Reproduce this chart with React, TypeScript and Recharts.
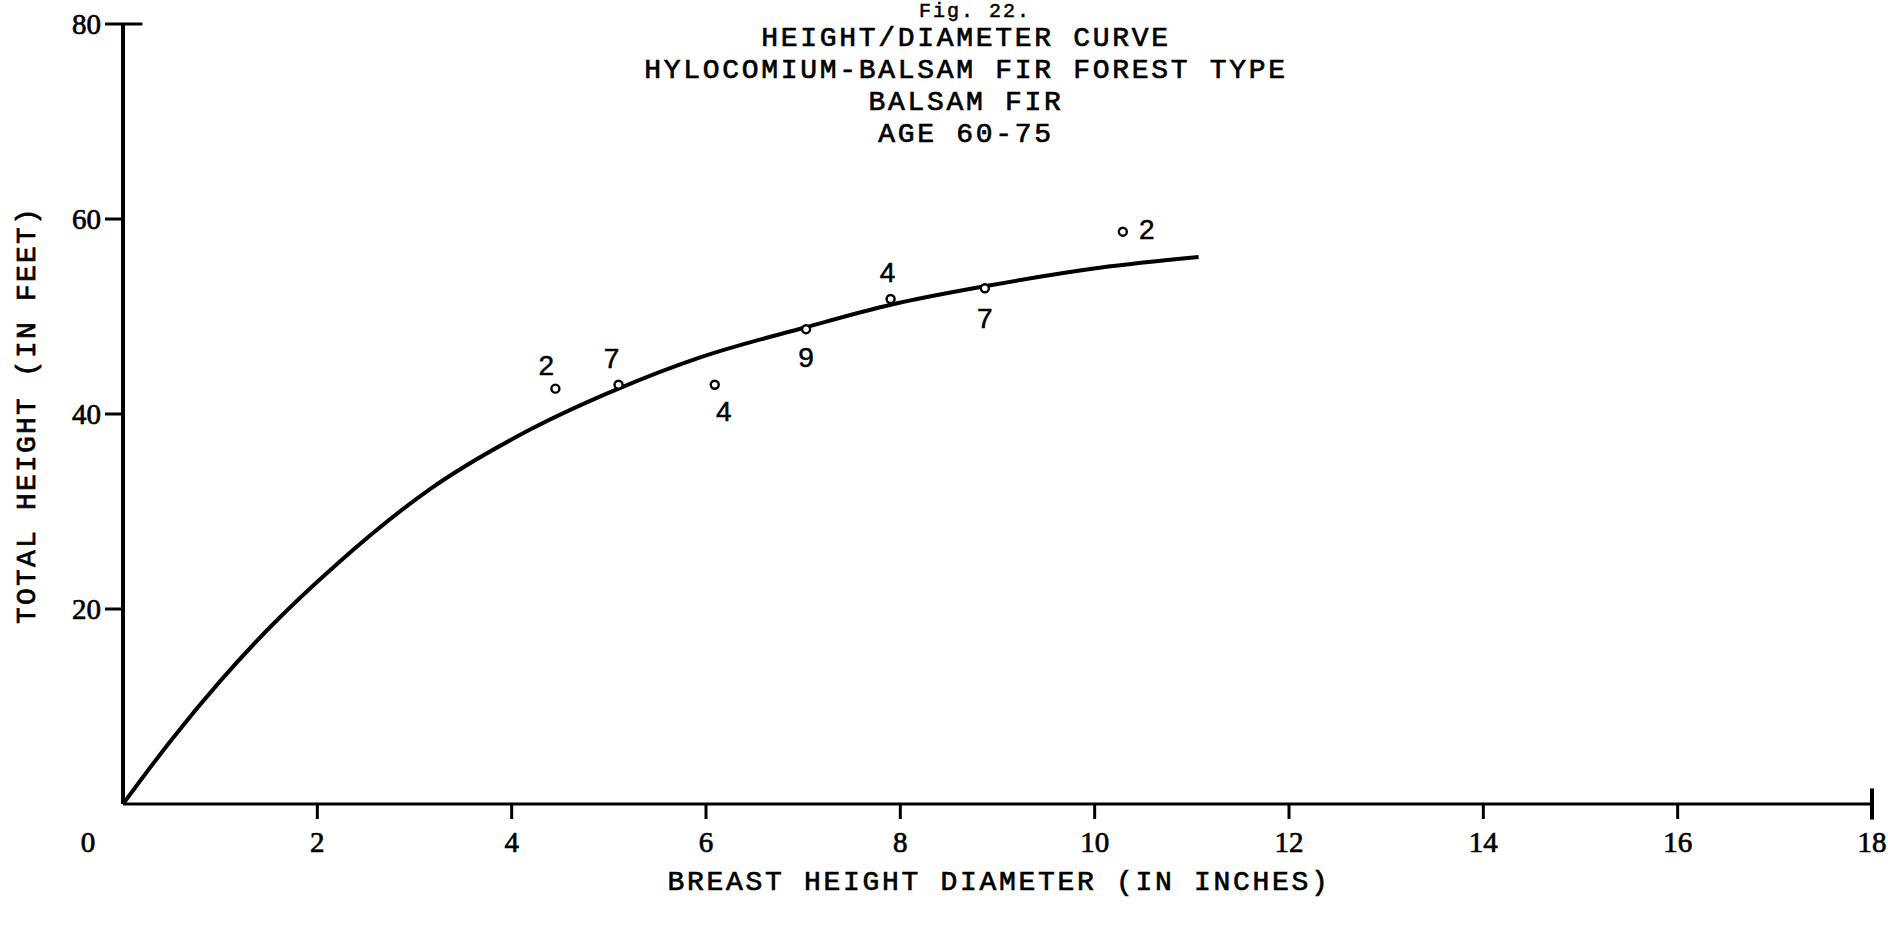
import { ComposedChart, Line, Scatter, XAxis, YAxis, ReferenceLine } from 'recharts';

const diameterTicks = [0, 2, 4, 6, 8, 10, 12, 14, 16, 18];
const heightTicks = [20, 40, 60, 80];

// fitted height/diameter curve
const curveDbh = [0, 0.5, 1, 1.5, 2.2, 3.16, 4.19, 5.1, 5.94, 7.03, 7.9, 8.87, 10.05, 11.07];
const curveHeight = [0, 6.6, 12.6, 18.0, 24.6, 32.3, 38.4, 42.6, 45.8, 48.9, 51.2, 53.1, 55.0, 56.1];

// diameter class means, with the number of trees in each class
const classDbh = [4.45, 5.1, 6.09, 7.03, 7.9, 8.87, 10.29];
const classHeight = [42.6, 43.0, 43.0, 48.7, 51.8, 52.9, 58.7];
const treeCount = [2, 7, 4, 9, 4, 7, 2];

const titleLines = [
  'HEIGHT/DIAMETER CURVE',
  'HYLOCOMIUM-BALSAM FIR FOREST TYPE',
  'BALSAM FIR',
  'AGE 60-75',
];

// where each tree count sits relative to its circle (px)
const countOffsets = [[-9, -23], [-7, -26], [9, 27], [0, 28], [-3, -26], [0, 30], [24, -2]];

const curve = curveDbh.map((x, i) => ({ x, y: curveHeight[i] }));
const classes = classDbh.map((x, i) => ({ x, y: classHeight[i], n: treeCount[i] }));

const TYPE = '"Liberation Mono", "Courier New", monospace';
const DIGITS = '"Liberation Serif", "Times New Roman", serif';
const INK = '#000';
const X_TICK_SIZE = 15;
const X_TICK_MARGIN = 12;

const typed = {
  fontFamily: TYPE,
  fontSize: 28,
  letterSpacing: 2.7,
  whiteSpace: 'pre' as const,
  color: INK,
  WebkitTextStroke: '0.7px #000',
};

const DiameterTick = ({ x, y, payload }: any) => {
  const v = payload.value;
  return (
    <g>
      {v !== 0 && (
        <line
          x1={x}
          x2={x}
          y1={y - X_TICK_MARGIN - X_TICK_SIZE}
          y2={y - X_TICK_MARGIN}
          stroke={INK}
          strokeWidth={3}
        />
      )}
      <text
        x={v === 0 ? x - 35 : x}
        y={y}
        dy="0.71em"
        textAnchor="middle"
        fontFamily={DIGITS}
        fontSize={29}
        fill={INK}
        stroke={INK}
        strokeWidth={0.7}
      >
        {v}
      </text>
    </g>
  );
};

const HeightTick = ({ x, y, payload }: any) => (
  <text
    x={x}
    y={y}
    dy="0.355em"
    textAnchor="end"
    fontFamily={DIGITS}
    fontSize={29}
    fill={INK}
    stroke={INK}
    strokeWidth={0.7}
  >
    {payload.value}
  </text>
);

const ClassPoint = ({ cx, cy, index, payload }: any) => {
  const [dx, dy] = countOffsets[index] || [0, -25];
  return (
    <g>
      <circle cx={cx} cy={cy} r={4} fill="#fff" stroke={INK} strokeWidth={2.4} />
      <text
        x={cx + dx}
        y={cy + dy}
        textAnchor="middle"
        dominantBaseline="central"
        fontFamily='"Liberation Sans", Arial, sans-serif'
        fontSize={28}
        fill={INK}
        stroke={INK}
        strokeWidth={0.5}
      >
        {payload.n}
      </text>
    </g>
  );
};

export default function App() {
  return (
    <div
      style={{
        position: 'absolute',
        left: 0,
        top: 0,
        width: 1888,
        height: 931,
        background: '#fff',
        overflow: 'hidden',
      }}
    >
      <ComposedChart
        width={1888}
        height={931}
        margin={{ top: 24, right: 16, bottom: 87, left: 83 }}
      >
        <XAxis
          type="number"
          dataKey="x"
          domain={[0, 18]}
          ticks={diameterTicks}
          interval={0}
          height={40}
          tickLine={false}
          tickSize={X_TICK_SIZE}
          tickMargin={X_TICK_MARGIN}
          axisLine={{ stroke: INK, strokeWidth: 3 }}
          tick={<DiameterTick />}
        />
        <YAxis
          type="number"
          dataKey="y"
          domain={[0, 80]}
          ticks={heightTicks}
          interval={0}
          width={40}
          tickSize={18}
          tickMargin={4}
          tickLine={{ stroke: INK, strokeWidth: 3 }}
          axisLine={{ stroke: INK, strokeWidth: 4 }}
          tick={<HeightTick />}
        />
        <ReferenceLine
          segment={[{ x: 0, y: 80 }, { x: 0.2, y: 80 }]}
          stroke={INK}
          strokeWidth={3}
          ifOverflow="visible"
        />
        <ReferenceLine
          segment={[{ x: 18, y: -1.6 }, { x: 18, y: 1.6 }]}
          stroke={INK}
          strokeWidth={4}
          ifOverflow="visible"
        />
        <Line
          data={curve}
          dataKey="y"
          type="monotone"
          stroke={INK}
          strokeWidth={4}
          dot={false}
          activeDot={false}
          isAnimationActive={false}
        />
        <Scatter
          data={classes}
          dataKey="y"
          shape={<ClassPoint />}
          isAnimationActive={false}
        />
      </ComposedChart>

      {/* figure number, kept small so it fits above the heading */}
      <div
        style={{
          ...typed,
          position: 'absolute',
          left: 975,
          top: 0,
          fontSize: 20,
          letterSpacing: 2,
          lineHeight: '23px',
          WebkitTextStroke: '0.5px #000',
          transform: 'translateX(-50%)',
        }}
      >
        Fig. 22.
      </div>

      <div
        style={{
          ...typed,
          position: 'absolute',
          left: 966,
          top: 23,
          lineHeight: '32px',
          textAlign: 'center',
          transform: 'translateX(-50%)',
        }}
      >
        {titleLines.map((t) => (
          <div key={t}>{t}</div>
        ))}
      </div>

      <div
        style={{
          ...typed,
          position: 'absolute',
          left: 999,
          top: 882,
          transform: 'translate(-50%, -50%)',
        }}
      >
        BREAST HEIGHT DIAMETER (IN INCHES)
      </div>

      <div
        style={{
          ...typed,
          position: 'absolute',
          left: 27,
          top: 415,
          letterSpacing: 2.2,
          transform: 'translate(-50%, -50%) rotate(-90deg)',
        }}
      >
        TOTAL HEIGHT (IN FEET)
      </div>
    </div>
  );
}
